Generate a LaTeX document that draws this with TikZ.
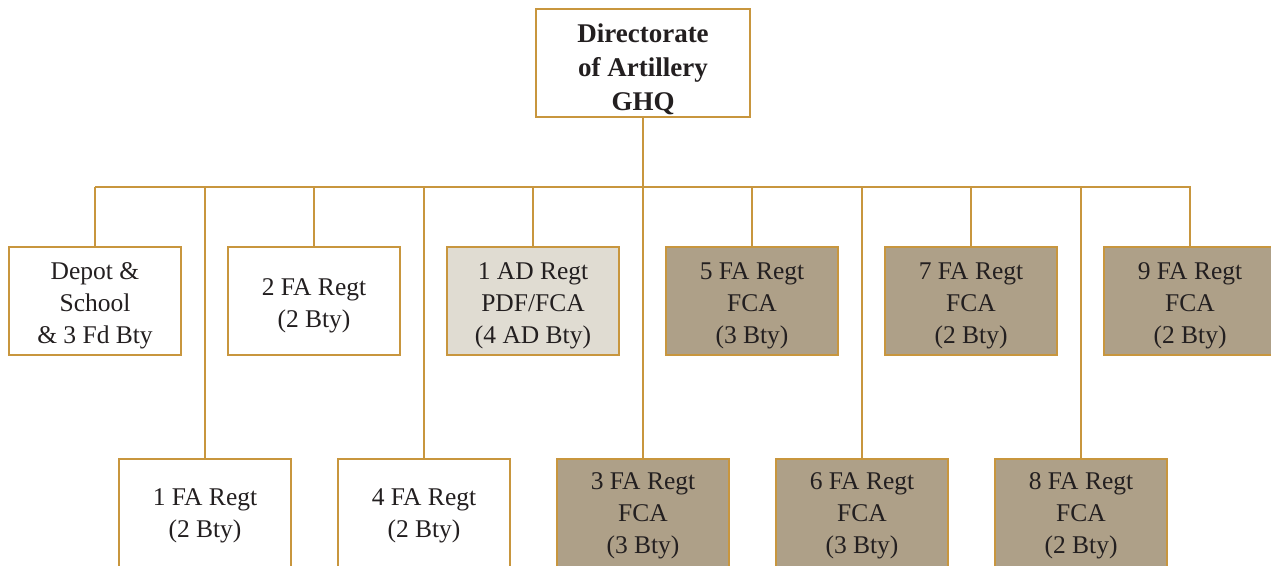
\documentclass[tikz,border=0pt]{standalone}
\usepackage{fontspec}
\setmainfont{Liberation Serif}
\definecolor{gold}{HTML}{C8963E}
\definecolor{darkfill}{HTML}{AEA088}
\definecolor{lightfill}{HTML}{E0DCD2}
\definecolor{ink}{HTML}{231F20}
\newcommand{\boxlines}[2][-4.5pt]{\raisebox{#1}[\height][\depth]{\begin{tabular}{@{}c@{}}#2\end{tabular}}}
\begin{document}
\begin{tikzpicture}[x=1pt,y=-1pt,
  unit/.style={draw=gold,line width=2pt,fill=white,text=ink,align=center,
    minimum width=172pt,minimum height=108pt,inner sep=0pt,outer sep=0pt,
    font=\fontsize{25.5}{32}\selectfont},
  darkunit/.style={unit,fill=darkfill},
  lightunit/.style={unit,fill=lightfill},
  topunit/.style={unit,minimum width=214pt,font=\fontsize{27}{34}\selectfont\bfseries},
  link/.style={draw=gold,line width=2pt}]
\useasboundingbox (0,0) rectangle (1271,565);
\clip (0,0) rectangle (1271,565);
\fill[white] (0,0) rectangle (1271,565);
\coordinate (busL) at (95,187);
\coordinate (busR) at (1191,187);
\coordinate (busC) at (643,187);
\draw[link] (busL) -- (busR);
\node[topunit] (dir) at (643,63) {\boxlines[-7pt]{Directorate\\of Artillery\\GHQ}};
\node[unit] (depot) at (95,301) {\boxlines{Depot \&\\School\\\& 3 Fd Bty}};
\node[unit] (fa2) at (314,301) {\boxlines{2 FA Regt\\(2 Bty)}};
\node[lightunit] (ad1) at (533,301) {\boxlines{1 AD Regt\\PDF/FCA\\(4 AD Bty)}};
\node[darkunit] (fa5) at (752,301) {\boxlines{5 FA Regt\\FCA\\(3 Bty)}};
\node[darkunit] (fa7) at (971,301) {\boxlines{7 FA Regt\\FCA\\(2 Bty)}};
\node[darkunit] (fa9) at (1190,301) {\boxlines{9 FA Regt\\FCA\\(2 Bty)}};
\node[unit] (fa1) at (205,512.5) {\boxlines[-2.5pt]{1 FA Regt\\(2 Bty)}};
\node[unit] (fa4) at (424,512.5) {\boxlines[-2.5pt]{4 FA Regt\\(2 Bty)}};
\node[darkunit] (fa3) at (643,512.5) {\boxlines[-2.5pt]{3 FA Regt\\FCA\\(3 Bty)}};
\node[darkunit] (fa6) at (862,512.5) {\boxlines[-2.5pt]{6 FA Regt\\FCA\\(3 Bty)}};
\node[darkunit] (fa8) at (1081,512.5) {\boxlines[-2.5pt]{8 FA Regt\\FCA\\(2 Bty)}};
\draw[link] (dir.south) -- (busC);
\foreach \n in {depot,fa2,ad1,fa5,fa7,fa9,fa1,fa4,fa3,fa6,fa8}{
  \draw[link] (\n.north) -- (\n.north |- busC);
}
\end{tikzpicture}
\end{document}
